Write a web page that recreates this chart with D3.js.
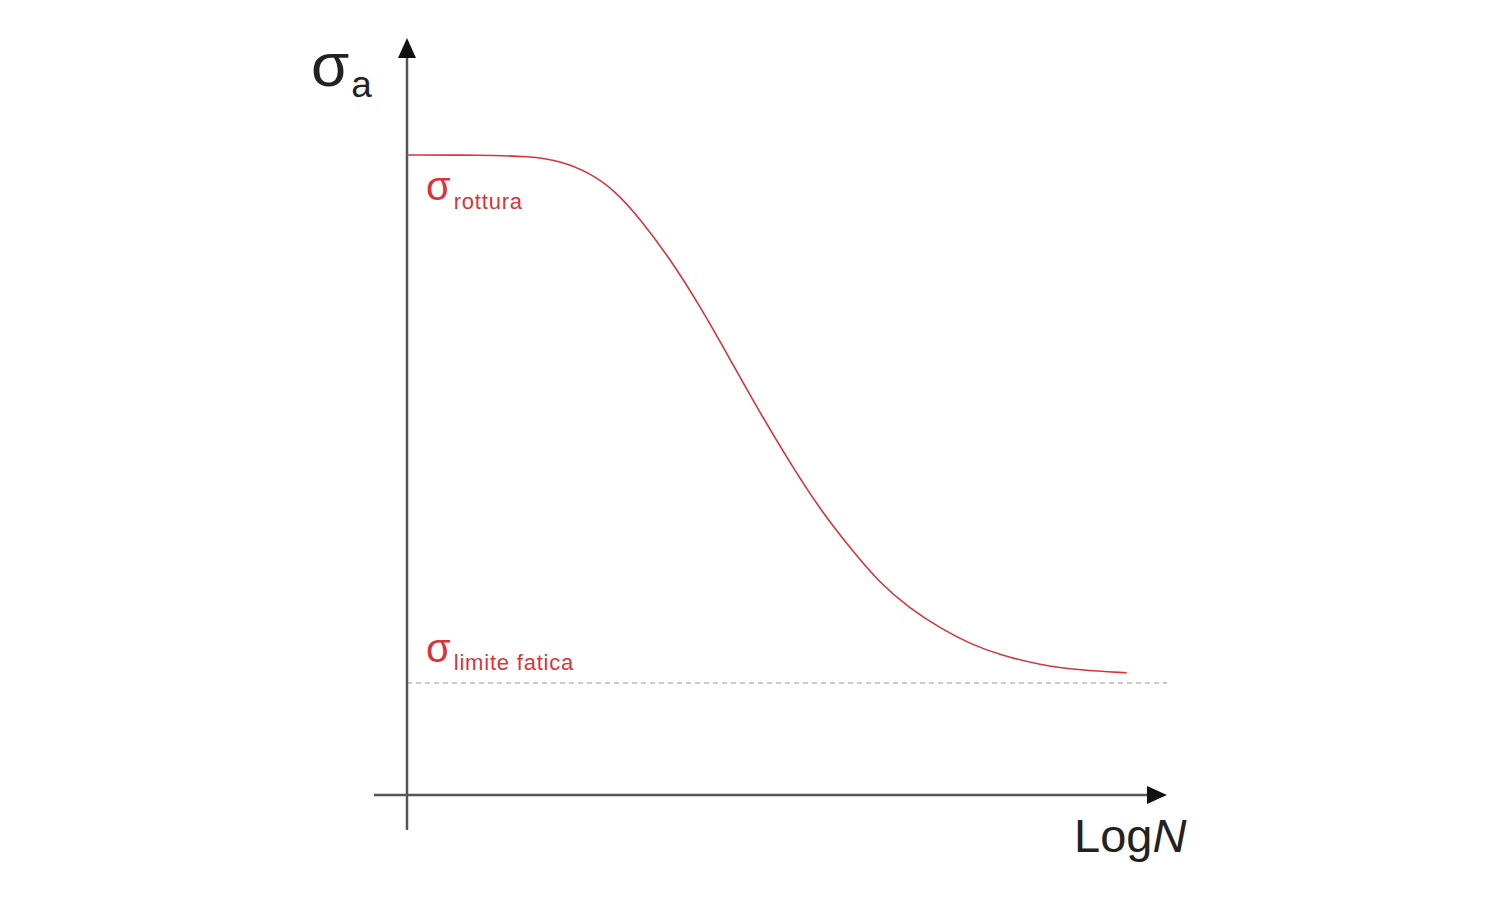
<!DOCTYPE html>
<html>
<head>
<meta charset="utf-8">
<script src="https://cdn.jsdelivr.net/npm/d3@7"></script>
<style>
  html, body { margin: 0; padding: 0; background: #fff; }
  svg { display: block; }
  text { font-family: "Liberation Sans", Arial, sans-serif; }
</style>
</head>
<body>
<svg id="chart" width="1500" height="900"></svg>
<script>
// Data (logN in arbitrary units 0..100, stress amplitude with sigma_rottura = 100)
const logN   = [0, 9.6, 16.2, 20.1, 24.1, 27.4, 30.7, 34.6, 38.6, 42.5, 46.4, 50.4, 54.3, 58.3, 62.2, 66.2, 70.1, 74.1, 78.0, 83.3, 88.6, 94.7];
const sigmaA = [100, 100, 99.8, 99.1, 97.2, 94.4, 90.0, 83.8, 76.3, 68.1, 59.8, 51.9, 44.7, 38.6, 33.1, 29.1, 26.1, 23.6, 21.9, 20.3, 19.5, 19.1];
const sigmaLimite = 17.5;
const labels = { yMain: "σ", ySub: "a", x1: "Log", x2: "N", rott: "rottura", lim: "limite fatica" };

const svg = d3.select("#chart");
const x = d3.scaleLinear().domain([0, 100]).range([407, 1167]);
const y = d3.scaleLinear().domain([0, 100]).range([795, 155]);

const axisColor = "#555";
const red = "#d8343c";

// fatigue limit dashed line
svg.append("line")
  .attr("x1", x(0)).attr("x2", x(100))
  .attr("y1", y(sigmaLimite)).attr("y2", y(sigmaLimite))
  .attr("stroke", "#bbb").attr("stroke-width", 1.3)
  .attr("stroke-dasharray", "5,4");

// axes
svg.append("line").attr("x1", x(0)).attr("x2", x(0))
  .attr("y1", 50).attr("y2", 830)
  .attr("stroke", axisColor).attr("stroke-width", 2.5);
svg.append("line").attr("x1", 374).attr("x2", x(100) - 10)
  .attr("y1", y(0)).attr("y2", y(0))
  .attr("stroke", axisColor).attr("stroke-width", 2.5);

// arrowheads
svg.append("path")
  .attr("d", `M${x(0)},38 L${x(0) - 9},58 L${x(0) + 9},58 Z`)
  .attr("fill", "#111");
svg.append("path")
  .attr("d", `M${x(100)},${y(0)} L${x(100) - 20},${y(0) - 9} L${x(100) - 20},${y(0) + 9} Z`)
  .attr("fill", "#111");

// curve
const pts = logN.map((d, i) => [d, sigmaA[i]]);
const line = d3.line().x(d => x(d[0])).y(d => y(d[1])).curve(d3.curveBasis);
svg.append("path").datum(pts)
  .attr("d", line)
  .attr("fill", "none")
  .attr("stroke", red)
  .attr("stroke-width", 1.6);

// y label
const yl = svg.append("text").attr("x", 311).attr("y", 86).attr("fill", "#222");
yl.append("tspan").attr("font-size", 62).text(labels.yMain);
yl.append("tspan").attr("font-size", 37).attr("dx", 2).attr("dy", 11).text(labels.ySub);

// x label
const xl = svg.append("text").attr("x", 1074).attr("y", 852).attr("fill", "#222").attr("font-size", 47);
xl.append("tspan").text(labels.x1);
xl.append("tspan").attr("font-style", "italic").text(labels.x2);

// sigma rottura
const r = svg.append("text").attr("x", 426).attr("y", 200).attr("fill", red);
r.append("tspan").attr("font-size", 40).text("σ");
r.append("tspan").attr("font-size", 22).attr("dx", 3).attr("dy", 9)
  .attr("letter-spacing", 0.8).text(labels.rott);

// sigma limite fatica
const l = svg.append("text").attr("x", 426).attr("y", 662).attr("fill", red);
l.append("tspan").attr("font-size", 40).text("σ");
l.append("tspan").attr("font-size", 22).attr("dx", 3).attr("dy", 8)
  .attr("letter-spacing", 0.8).text(labels.lim);
</script>
</body>
</html>
